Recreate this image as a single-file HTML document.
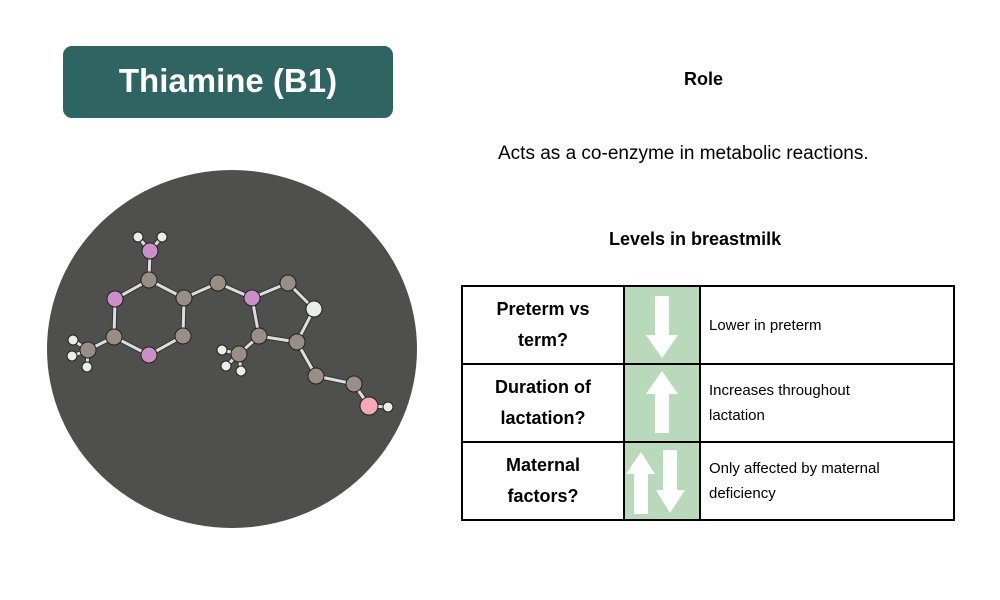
<!DOCTYPE html>
<html><head><meta charset="utf-8"><style>
body{margin:0;width:1000px;height:600px;background:#fff;font-family:"Liberation Sans",sans-serif;position:relative;overflow:hidden}
.t{position:absolute;white-space:nowrap}
table{position:absolute;left:461px;top:285px;border-collapse:collapse;width:494px;height:234px;table-layout:fixed}
tr{height:78px}
td{border:2px solid #000;padding:0;overflow:hidden}
td.a{width:160px;text-align:center;font-weight:bold;font-size:18px;line-height:31px}
td.g{width:74px;background:#b9d9bb;border-left:none;border-right:2px solid #000}
td.c{font-size:15px;padding-left:8px;line-height:25px}
</style></head><body>
<div style="position:absolute;left:63px;top:46px;width:330px;height:72px;background:#2e6461;border-radius:9px;color:#fff;font-weight:bold;font-size:33px;text-align:center;line-height:70px">Thiamine (B1)</div>
<div class="t" style="left:684px;top:69px;font-weight:bold;font-size:18px">Role</div>
<div class="t" style="left:498px;top:143px;font-size:19px">Acts as a co-enzyme in metabolic reactions.</div>
<div class="t" style="left:609px;top:229px;font-weight:bold;font-size:18px">Levels in breastmilk</div>
<svg style="position:absolute;left:0;top:0" width="1000" height="600">
<ellipse cx="232" cy="349" rx="185" ry="179" fill="#4f4f4d"/>
<g fill="none" stroke="#333" stroke-width="5" stroke-linecap="round">
<path d="M150 251L138 237M150 251L162 237M150 251L149 280L115 299L114 337L149 355L183 336L184 298L149 280M114 337L88 350L73 340M88 350L72 356M88 350L87 367M184 298L218 283L252 298L288 283L314 309L297 342L259 336L252 298M259 336L239 354L222 350M239 354L226 366M239 354L241 371M297 342L316 376L354 384L369 406L388 407"/>
</g>
<g fill="none" stroke="#ddd" stroke-width="3" stroke-linecap="round">
<path d="M150 251L138 237M150 251L162 237M150 251L149 280L115 299L114 337L149 355L183 336L184 298L149 280M114 337L88 350L73 340M88 350L72 356M88 350L87 367M184 298L218 283L252 298L288 283L314 309L297 342L259 336L252 298M259 336L239 354L222 350M239 354L226 366M239 354L241 371M297 342L316 376L354 384L369 406L388 407"/>
</g>
<g stroke="#222" stroke-width="1">
<g fill="#e8efe8"><circle cx="138" cy="237" r="5"/><circle cx="162" cy="237" r="5"/><circle cx="73" cy="340" r="5"/><circle cx="72" cy="356" r="5"/><circle cx="87" cy="367" r="5"/><circle cx="222" cy="350" r="5"/><circle cx="226" cy="366" r="5"/><circle cx="241" cy="371" r="5"/><circle cx="388" cy="407" r="5"/><circle cx="314" cy="309" r="8"/></g>
<g fill="#998e86"><circle cx="149" cy="280" r="8"/><circle cx="184" cy="298" r="8"/><circle cx="114" cy="337" r="8"/><circle cx="183" cy="336" r="8"/><circle cx="88" cy="350" r="8"/><circle cx="218" cy="283" r="8"/><circle cx="288" cy="283" r="8"/><circle cx="297" cy="342" r="8"/><circle cx="259" cy="336" r="8"/><circle cx="239" cy="354" r="8"/><circle cx="316" cy="376" r="8"/><circle cx="354" cy="384" r="8"/></g>
<g fill="#c98fc6"><circle cx="150" cy="251" r="8"/><circle cx="115" cy="299" r="8"/><circle cx="149" cy="355" r="8"/><circle cx="252" cy="298" r="8"/></g>
<circle cx="369" cy="406" r="9" fill="#f8a8b4"/>
</g>
</svg>
<table>
<tr><td class="a">Preterm vs<br>term?</td><td class="g"><svg width="74" height="74" style="display:block"><polygon points="30,8 44,8 44,47 53,47 37,70 21,47 30,47" fill="#fff"/></svg></td><td class="c">Lower in preterm</td></tr>
<tr><td class="a">Duration of<br>lactation?</td><td class="g"><svg width="74" height="74" style="display:block"><polygon points="30,67 44,67 44,28 53,28 37,5 21,28 30,28" fill="#fff"/></svg></td><td class="c">Increases throughout<br>lactation</td></tr>
<tr><td class="a">Maternal<br>factors?</td><td class="g"><svg width="74" height="74" style="display:block"><polygon points="9,70 23,70 23,30 30,30 16,8 1,30 9,30" fill="#fff"/><polygon points="38,6 52,6 52,46 60,46 45,69 31,46 38,46" fill="#fff"/></svg></td><td class="c">Only affected by maternal<br>deficiency</td></tr>
</table>
</body></html>
